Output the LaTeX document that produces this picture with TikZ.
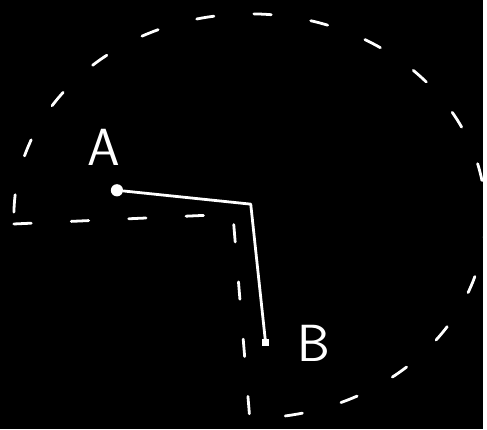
\documentclass[tikz,border=0pt]{standalone}
\usepackage{tikz}
\usetikzlibrary{arrows.meta,positioning}

\begin{document}
\begin{tikzpicture}[x=0.02cm,y=-0.02cm,
                    chalk/.style={white,line width=1.6pt,line cap=round,line join=round},
                    dashchalk/.style={chalk,dash pattern=on 10pt off 23pt},
                    lbl/.style={white,font=\sffamily\fontsize{30}{30}\selectfont}]
  \fill[black] (0,0) rectangle (487,433);
  \node[circle,fill=white,inner sep=0pt,minimum size=7pt] (a) at (118,192) {};
  \coordinate (c) at (253,206);
  \node[fill=white,inner sep=0pt,minimum size=4pt] (b) at (268,346) {};
  \node[lbl,above=0.25cm of a,xshift=-0.26cm] (la) {A};
  \node[lbl,right=0.45cm of b] (lb) {B};
  \coordinate (lft) at (14,226);
  \coordinate (k) at (235,216);
  \coordinate (bot) at (252,422);
  \draw[chalk] (a) -- (c) -- (b);
  \draw[dashchalk] (lft) -- (k) -- (bot)
    arc[start angle=90,end angle=-180,x radius=238,y radius=204];
\end{tikzpicture}
\end{document}
